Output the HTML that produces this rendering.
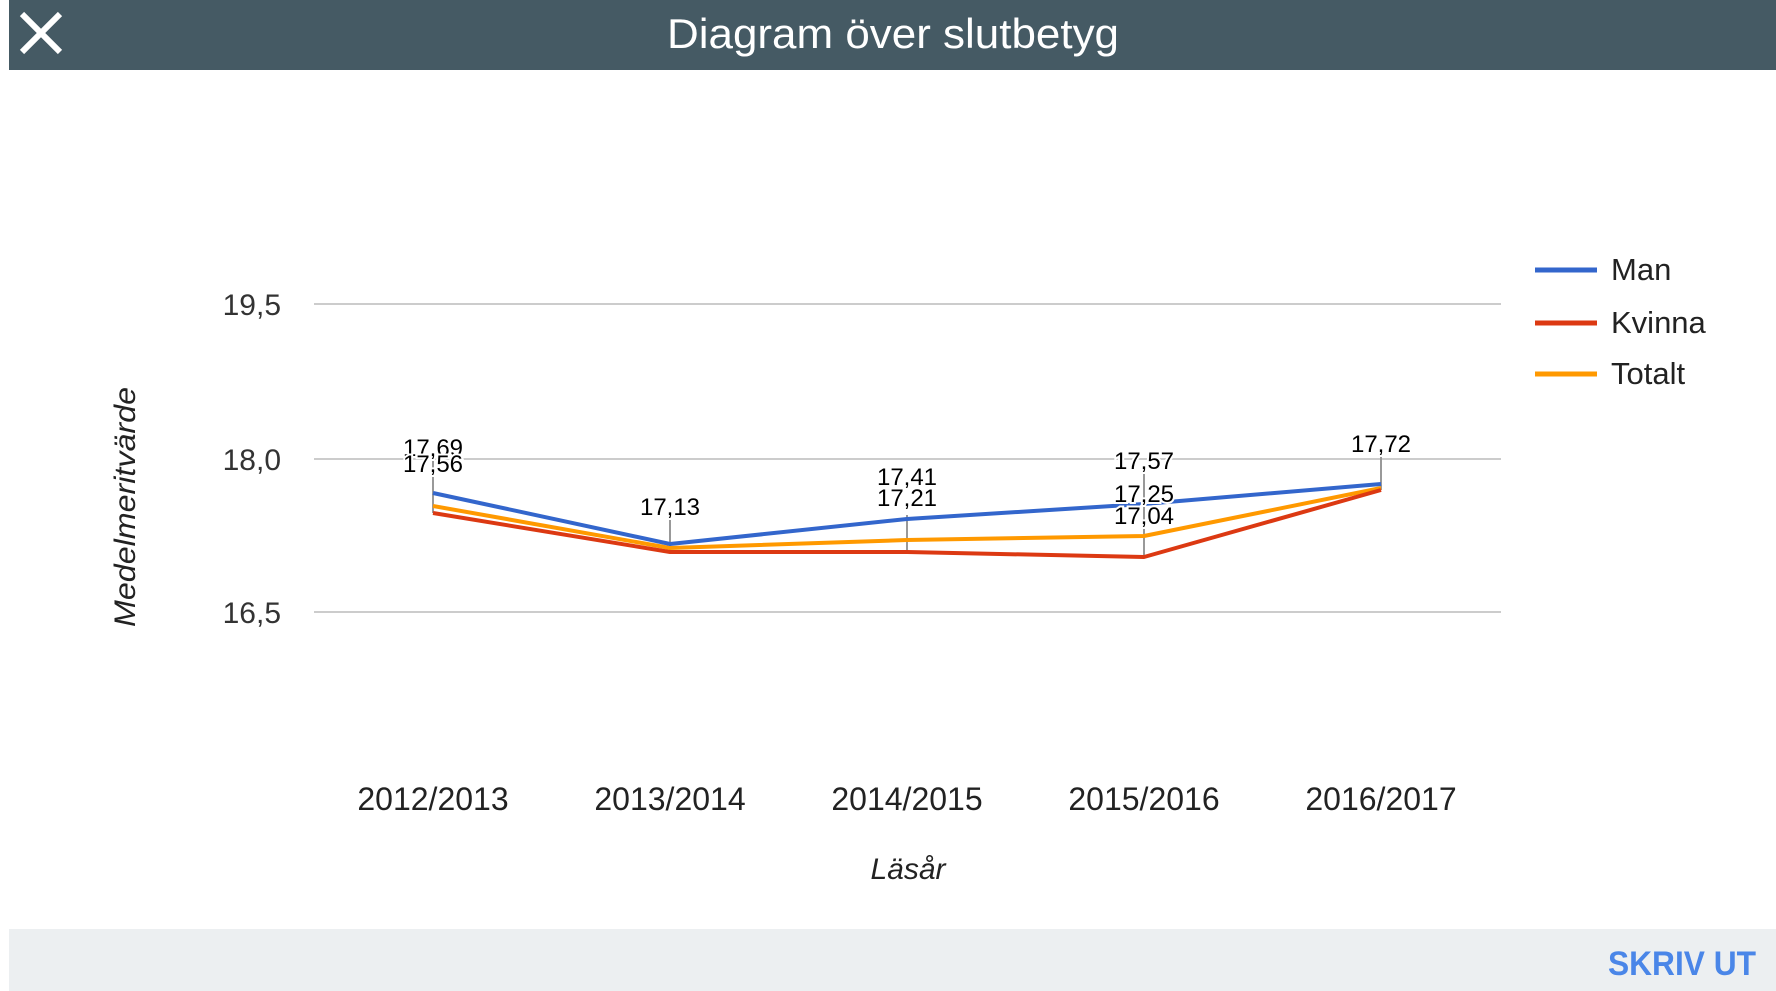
<!DOCTYPE html>
<html><head><meta charset="utf-8"><style>
html,body{margin:0;padding:0;background:#fff;width:1776px;height:991px;overflow:hidden;font-family:"Liberation Sans",Arial,sans-serif}
</style></head><body>
<svg width="1776" height="991" viewBox="0 0 1776 991" xmlns="http://www.w3.org/2000/svg" font-family="Liberation Sans, Arial, sans-serif">
<rect x="0" y="0" width="1776" height="991" fill="#fff"/>
<rect x="9" y="0" width="1767" height="70" fill="#455a64"/>
<path d="M22 14 L60 52 M60 14 L22 52" stroke="#fff" stroke-width="6"/>
<text x="893" y="48" font-size="42" fill="#fff" text-anchor="middle" textLength="452" lengthAdjust="spacingAndGlyphs">Diagram över slutbetyg</text>
<rect x="9" y="929" width="1767" height="62" fill="#eceff1"/>
<text x="1756" y="975" font-size="34" fill="#4a86e8" text-anchor="end" font-weight="bold" textLength="148" lengthAdjust="spacingAndGlyphs">SKRIV UT</text>
<g stroke="#ccc" stroke-width="2">
<line x1="314" y1="304" x2="1501" y2="304"/>
<line x1="314" y1="459" x2="1501" y2="459"/>
<line x1="314" y1="612" x2="1501" y2="612"/>
</g>
<g font-size="30" fill="#333" text-anchor="end">
<text x="281" y="315">19,5</text>
<text x="281" y="470">18,0</text>
<text x="281" y="623">16,5</text>
</g>
<text transform="translate(135,507) rotate(-90)" font-size="30" font-style="italic" fill="#222" text-anchor="middle" textLength="240" lengthAdjust="spacingAndGlyphs">Medelmeritvärde</text>
<g font-size="32" fill="#222" text-anchor="middle">
<text x="433" y="810">2012/2013</text>
<text x="670" y="810">2013/2014</text>
<text x="907" y="810">2014/2015</text>
<text x="1144" y="810">2015/2016</text>
<text x="1381" y="810">2016/2017</text>
</g>
<text x="908" y="879" font-size="30" font-style="italic" fill="#222" text-anchor="middle">Läsår</text>
<g stroke="#999" stroke-width="2">
<line x1="433" y1="460" x2="433" y2="513"/>
<line x1="670" y1="520" x2="670" y2="552"/>
<line x1="907" y1="515" x2="907" y2="552"/>
<line x1="1144" y1="470" x2="1144" y2="557"/>
<line x1="1381" y1="455" x2="1381" y2="490"/>
</g>
<g fill="none" stroke-width="4" stroke-linejoin="round">
<polyline stroke="#ff9900" points="433,506 670,548 907,540 1144,536 1381,488"/>
<polyline stroke="#dc3912" points="433,513 670,552 907,552 1144,557 1381,490"/>
<polyline stroke="#3366cc" points="433,493 670,544 907,519 1144,504 1381,484"/>
</g>
<g font-size="24" fill="#000" text-anchor="middle" stroke="#fff" stroke-width="4" paint-order="stroke">
<text x="433" y="456">17,69</text>
<text x="433" y="472">17,56</text>
<text x="670" y="515">17,13</text>
<text x="907" y="485">17,41</text>
<text x="907" y="506">17,21</text>
<text x="1144" y="469">17,57</text>
<text x="1144" y="502">17,25</text>
<text x="1144" y="524">17,04</text>
<text x="1381" y="452">17,72</text>
</g>
<g stroke-width="5">
<line x1="1535" y1="270" x2="1597" y2="270" stroke="#3366cc"/>
<line x1="1535" y1="323" x2="1597" y2="323" stroke="#dc3912"/>
<line x1="1535" y1="374" x2="1597" y2="374" stroke="#ff9900"/>
</g>
<g font-size="31" fill="#222">
<text x="1611" y="280">Man</text>
<text x="1611" y="333">Kvinna</text>
<text x="1611" y="384">Totalt</text>
</g>
</svg>
</body></html>
